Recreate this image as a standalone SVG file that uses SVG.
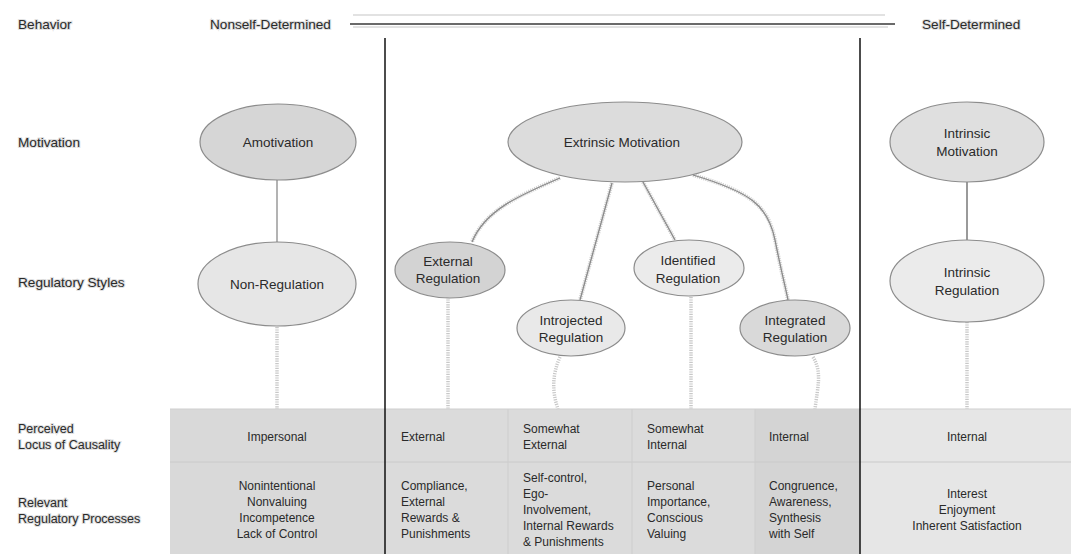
<svg xmlns="http://www.w3.org/2000/svg" width="1071" height="554" viewBox="0 0 1071 554">
<style>
text{font-family:"Liberation Sans",Arial,sans-serif;fill:#2a2a2a}
.lbl{font-size:13.6px;stroke:#c8c8c8;stroke-width:2.2;stroke-opacity:0.55;paint-order:stroke}
.lbs{font-size:12.5px;stroke:#c8c8c8;stroke-width:2.2;stroke-opacity:0.55;paint-order:stroke}
.nt{font-size:13.5px;text-anchor:middle}
.tt{font-size:12px}
.tc{font-size:12px;text-anchor:middle}
.ell{stroke:#8c8c8c;stroke-width:1.2}
.halo{fill:none;stroke:#d2d2d2;stroke-width:4;stroke-dasharray:1.2 1;}
.con{fill:none;stroke:#8a8a8a;stroke-width:1.3}
.drop{fill:none;stroke:#c8c8c8;stroke-width:3.5;stroke-dasharray:1.2 1.2}
.div{stroke:#111;stroke-width:1.5}
</style>

<!-- table background -->
<g id="table">
<rect x="170" y="409" width="215" height="145" fill="#d9d9d9"/>
<rect x="385" y="409" width="370" height="145" fill="#dbdbdb"/>
<rect x="755" y="409" width="105" height="145" fill="#d4d4d4"/>
<rect x="860" y="409" width="211" height="145" fill="#e6e6e6"/>
<line x1="170" y1="462" x2="1071" y2="462" stroke="#cacaca" stroke-width="1"/>
<line x1="508" y1="409" x2="508" y2="554" stroke="#cdcdcd" stroke-width="1"/>
<line x1="632" y1="409" x2="632" y2="554" stroke="#cdcdcd" stroke-width="1"/>
<line x1="755" y1="409" x2="755" y2="554" stroke="#cdcdcd" stroke-width="1"/>
<line x1="170" y1="409" x2="1071" y2="409" stroke="#cfcfcf" stroke-width="1"/>
</g>

<!-- top behaviour arrow and dividers -->
<g id="behavior-scale">
<line x1="353" y1="15" x2="885" y2="15" stroke="#c6c6c6" stroke-width="1.2"/>
<line x1="350" y1="24" x2="895" y2="24" stroke="#6a6a6a" stroke-width="2"/>
<line x1="353" y1="27" x2="888" y2="27" stroke="#c6c6c6" stroke-width="1"/>
<line class="div" x1="385" y1="38" x2="385" y2="554"/>
<line class="div" x1="860" y1="38" x2="860" y2="554"/>
</g>

<!-- row labels -->
<g id="row-labels">
<text class="lbl" x="18" y="29">Behavior</text>
<text class="lbl" x="210" y="29">Nonself-Determined</text>
<text class="lbl" x="922" y="29">Self-Determined</text>
<text class="lbl" x="18" y="147">Motivation</text>
<text class="lbl" x="18" y="287">Regulatory Styles</text>
<text class="lbs" x="18" y="433">Perceived</text>
<text class="lbs" x="18" y="449">Locus of Causality</text>
<text class="lbs" x="18" y="507">Relevant</text>
<text class="lbs" x="18" y="523">Regulatory Processes</text>
</g>

<!-- connectors -->
<g id="connectors">
<line x1="277" y1="180" x2="277" y2="242" stroke="#8a8a8a" stroke-width="1.3"/>
<line x1="967" y1="182" x2="967" y2="240" stroke="#9a9a9a" stroke-width="2"/>
<path class="halo" d="M560,178 C520,195 485,210 472,242"/>
<path class="con" d="M560,178 C520,195 485,210 472,242"/>
<path class="halo" d="M612,183 L580,300"/>
<path class="con" d="M612,183 L580,300"/>
<path class="halo" d="M643,182 L675,240"/>
<path class="con" d="M643,182 L675,240"/>
<path class="halo" d="M693,175 C750,192 768,205 775,240 S785,285 788,300"/>
<path class="con" d="M693,175 C750,192 768,205 775,240 S785,285 788,300"/>
<path class="drop" d="M277,327 L277,409"/>
<path class="drop" d="M448,297 L448,409"/>
<path class="drop" d="M560,357 C552,375 552,392 558,409"/>
<path class="drop" d="M691,297 L691,409"/>
<path class="drop" d="M813,357 C822,372 818,385 815,409"/>
<path class="drop" d="M967,322 L967,409"/>
</g>

<!-- nodes -->
<g id="amotivation">
<ellipse class="ell" cx="278" cy="142" rx="78" ry="38" fill="#d6d6d6"/>
<text class="nt" x="278" y="147">Amotivation</text>
</g>
<g id="non-regulation">
<ellipse class="ell" cx="277" cy="284" rx="79" ry="42" fill="#e6e6e6"/>
<text class="nt" x="277" y="289">Non-Regulation</text>
</g>
<g id="extrinsic-motivation">
<ellipse class="ell" cx="625" cy="142" rx="117" ry="40" fill="#dcdcdc"/>
<text class="nt" x="622" y="147">Extrinsic Motivation</text>
</g>
<g id="external-regulation">
<ellipse class="ell" cx="450" cy="270" rx="55" ry="28" fill="#d3d3d3"/>
<text class="nt" x="448" y="266">External</text>
<text class="nt" x="448" y="283">Regulation</text>
</g>
<g id="introjected-regulation">
<ellipse class="ell" cx="571" cy="328" rx="54" ry="28" fill="#e9e9e9"/>
<text class="nt" x="571" y="325">Introjected</text>
<text class="nt" x="571" y="342">Regulation</text>
</g>
<g id="identified-regulation">
<ellipse class="ell" cx="689" cy="268" rx="55" ry="28" fill="#ebebeb"/>
<text class="nt" x="688" y="265">Identified</text>
<text class="nt" x="688" y="283">Regulation</text>
</g>
<g id="integrated-regulation">
<ellipse class="ell" cx="795" cy="328" rx="55" ry="28" fill="#d9d9d9"/>
<text class="nt" x="795" y="325">Integrated</text>
<text class="nt" x="795" y="342">Regulation</text>
</g>
<g id="intrinsic-motivation">
<ellipse class="ell" cx="967" cy="142" rx="77" ry="40" fill="#dfdfdf"/>
<text class="nt" x="967" y="138">Intrinsic</text>
<text class="nt" x="967" y="156">Motivation</text>
</g>
<g id="intrinsic-regulation">
<ellipse class="ell" cx="967" cy="281" rx="77" ry="41" fill="#ebebeb"/>
<text class="nt" x="967" y="277">Intrinsic</text>
<text class="nt" x="967" y="295">Regulation</text>
</g>

<!-- table text -->
<g id="table-text">
<text class="tc" x="277" y="441">Impersonal</text>
<text class="tt" x="401" y="441">External</text>
<text class="tt" x="523" y="433">Somewhat</text>
<text class="tt" x="523" y="449">External</text>
<text class="tt" x="647" y="433">Somewhat</text>
<text class="tt" x="647" y="449">Internal</text>
<text class="tt" x="769" y="441">Internal</text>
<text class="tc" x="967" y="441">Internal</text>

<text class="tc" x="277" y="490">Nonintentional</text>
<text class="tc" x="277" y="506">Nonvaluing</text>
<text class="tc" x="277" y="522">Incompetence</text>
<text class="tc" x="277" y="538">Lack of Control</text>

<text class="tt" x="401" y="490">Compliance,</text>
<text class="tt" x="401" y="506">External</text>
<text class="tt" x="401" y="522">Rewards &amp;</text>
<text class="tt" x="401" y="538">Punishments</text>

<text class="tt" x="523" y="482">Self-control,</text>
<text class="tt" x="523" y="498">Ego-</text>
<text class="tt" x="523" y="514">Involvement,</text>
<text class="tt" x="523" y="530">Internal Rewards</text>
<text class="tt" x="523" y="546">&amp; Punishments</text>

<text class="tt" x="647" y="490">Personal</text>
<text class="tt" x="647" y="506">Importance,</text>
<text class="tt" x="647" y="522">Conscious</text>
<text class="tt" x="647" y="538">Valuing</text>

<text class="tt" x="769" y="490">Congruence,</text>
<text class="tt" x="769" y="506">Awareness,</text>
<text class="tt" x="769" y="522">Synthesis</text>
<text class="tt" x="769" y="538">with Self</text>

<text class="tc" x="967" y="498">Interest</text>
<text class="tc" x="967" y="514">Enjoyment</text>
<text class="tc" x="967" y="530">Inherent Satisfaction</text>
</g>
</svg>
